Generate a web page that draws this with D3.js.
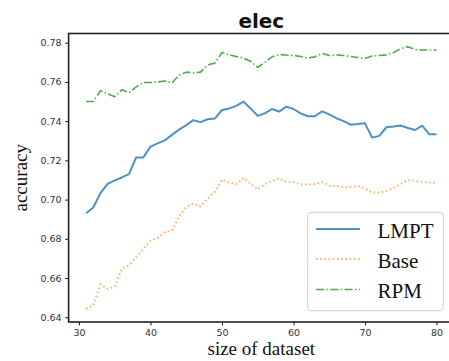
<!DOCTYPE html>
<html>
<head>
<meta charset="utf-8">
<script src="https://cdn.jsdelivr.net/npm/d3@7/dist/d3.min.js"></script>
<style>
  html, body { margin: 0; padding: 0; background: #fff; }
  svg { display: block; }
</style>
</head>
<body>
<svg id="chart" width="449" height="361"></svg>
<script>
// Dataset sizes 31..80
const sizes = [31,32,33,34,35,36,37,38,39,40,41,42,43,44,45,46,47,48,49,50,
               51,52,53,54,55,56,57,58,59,60,61,62,63,64,65,66,67,68,69,70,
               71,72,73,74,75,76,77,78,79,80];

const lmpt = [0.693,0.696,0.7033,0.708,0.7098,0.7113,0.713,0.7215,0.7215,0.727,
              0.7287,0.7302,0.733,0.7357,0.738,0.7405,0.7395,0.741,0.7413,0.7457,
              0.7465,0.7478,0.750,0.7465,0.7427,0.744,0.7462,0.7449,0.7474,0.7462,
              0.744,0.7425,0.7425,0.745,0.7435,0.7415,0.740,0.7382,0.7385,0.7389,
              0.7316,0.7325,0.7369,0.7373,0.7378,0.7365,0.7355,0.7377,0.7333,0.7333];

const base = [0.6443,0.646,0.6568,0.6545,0.6555,0.6648,0.6665,0.6707,0.675,0.679,
              0.6805,0.6833,0.6843,0.6915,0.6963,0.698,0.6965,0.7005,0.704,0.7102,
              0.7087,0.7079,0.711,0.7082,0.7052,0.708,0.7095,0.7108,0.709,0.709,
              0.7077,0.7077,0.708,0.709,0.707,0.707,0.7062,0.7065,0.707,0.7057,
              0.7036,0.7036,0.7043,0.706,0.708,0.710,0.7096,0.709,0.7087,0.7085];

const rpm = [0.750,0.750,0.7555,0.754,0.7525,0.756,0.7545,0.7575,0.7597,0.7597,
             0.760,0.7605,0.7595,0.7635,0.765,0.7647,0.765,0.7687,0.7696,0.775,
             0.7738,0.773,0.7722,0.7705,0.7675,0.770,0.7728,0.774,0.7737,0.7735,
             0.773,0.7722,0.7728,0.7745,0.7735,0.7738,0.7735,0.773,0.7725,0.772,
             0.7732,0.7735,0.7738,0.775,0.777,0.778,0.7765,0.7763,0.7763,0.7763];

const xTicks = [30, 40, 50, 60, 70, 80];
const yTicks = [0.64, 0.66, 0.68, 0.70, 0.72, 0.74, 0.76, 0.78];

const seriesNames = ["LMPT", "Base", "RPM"];
const seriesData = [lmpt, base, rpm];
const seriesColors = ["#1f77b4", "#ff7f0e", "#2ca02c"];
const seriesDash = [null, "1.6 2.6", "8 2.4 1.5 2.4"];
const seriesWidth = [2, 2, 1.6];
const seriesOpacity = [0.8, 0.6, 0.85];

const svg = d3.select("#chart");
const plotL = 68.6, plotR = 454, plotT = 33.5, plotB = 322;

const x = d3.scaleLinear().domain([28.55, 82.45]).range([plotL, plotR]);
const y = d3.scaleLinear().domain([0.6376, 0.7847]).range([plotB, plotT]);

// Title
svg.append("text")
  .attr("x", (plotL + plotR) / 2).attr("y", 27.5)
  .attr("text-anchor", "middle")
  .attr("font-family", "DejaVu Sans")
  .attr("font-weight", "bold")
  .attr("font-size", 20)
  .attr("fill", "#111")
  .text("elec");

// Lines
const line = d3.line().x((d, i) => x(sizes[i])).y(d => y(d));
seriesData.forEach((vals, k) => {
  svg.append("path")
    .datum(vals)
    .attr("d", line)
    .attr("fill", "none")
    .attr("stroke", seriesColors[k])
    .attr("stroke-width", seriesWidth[k])
    .attr("stroke-opacity", seriesOpacity[k])
    .attr("stroke-dasharray", seriesDash[k])
    .attr("stroke-linejoin", "round");
});

// Axes
const xAxis = d3.axisBottom(x).tickValues(xTicks).tickSize(3.5).tickSizeOuter(0).tickPadding(3.5)
  .tickFormat(d3.format("d"));
const yAxis = d3.axisLeft(y).tickValues(yTicks).tickSize(3.5).tickSizeOuter(0).tickPadding(3.5)
  .tickFormat(d3.format(".2f"));

const gx = svg.append("g").attr("transform", `translate(0,${plotB})`).call(xAxis);
const gy = svg.append("g").attr("transform", `translate(${plotL},0)`).call(yAxis);
[gx, gy].forEach(g => {
  g.select(".domain").remove();
  g.selectAll(".tick line").attr("stroke", "#222").attr("stroke-width", 1);
  g.selectAll(".tick text")
    .attr("font-family", "DejaVu Sans")
    .attr("font-size", 9.5)
    .attr("fill", "#333");
});

// Frame
svg.append("rect")
  .attr("x", plotL).attr("y", plotT)
  .attr("width", plotR - plotL).attr("height", plotB - plotT)
  .attr("fill", "none")
  .attr("stroke", "#222")
  .attr("stroke-width", 1.6);

// Axis labels
svg.append("text")
  .attr("x", (plotL + plotR) / 2).attr("y", 355)
  .attr("text-anchor", "middle")
  .attr("font-family", "Liberation Serif")
  .attr("font-size", 19)
  .attr("fill", "#111")
  .text("size of dataset");

svg.append("text")
  .attr("transform", `translate(27,${(plotT + plotB) / 2}) rotate(-90)`)
  .attr("text-anchor", "middle")
  .attr("font-family", "Liberation Serif")
  .attr("font-size", 19)
  .attr("fill", "#111")
  .text("accuracy");

// Legend
const lg = svg.append("g");
lg.append("rect")
  .attr("x", 307.7).attr("y", 212.3)
  .attr("width", 135.6).attr("height", 98.4)
  .attr("rx", 3).attr("ry", 3)
  .attr("fill", "#fff").attr("fill-opacity", 0.8)
  .attr("stroke", "#d0d0d0").attr("stroke-width", 1);

const legendY = [229, 259, 289.5];
seriesNames.forEach((name, k) => {
  lg.append("line")
    .attr("x1", 316).attr("x2", 360)
    .attr("y1", legendY[k]).attr("y2", legendY[k])
    .attr("stroke", seriesColors[k])
    .attr("stroke-width", seriesWidth[k])
    .attr("stroke-opacity", seriesOpacity[k])
    .attr("stroke-dasharray", seriesDash[k]);
  lg.append("text")
    .attr("x", 377.5).attr("y", legendY[k] + 8.5)
    .attr("font-family", "Liberation Serif")
    .attr("font-size", 21)
    .attr("fill", "#111")
    .text(name);
});
</script>
</body>
</html>
